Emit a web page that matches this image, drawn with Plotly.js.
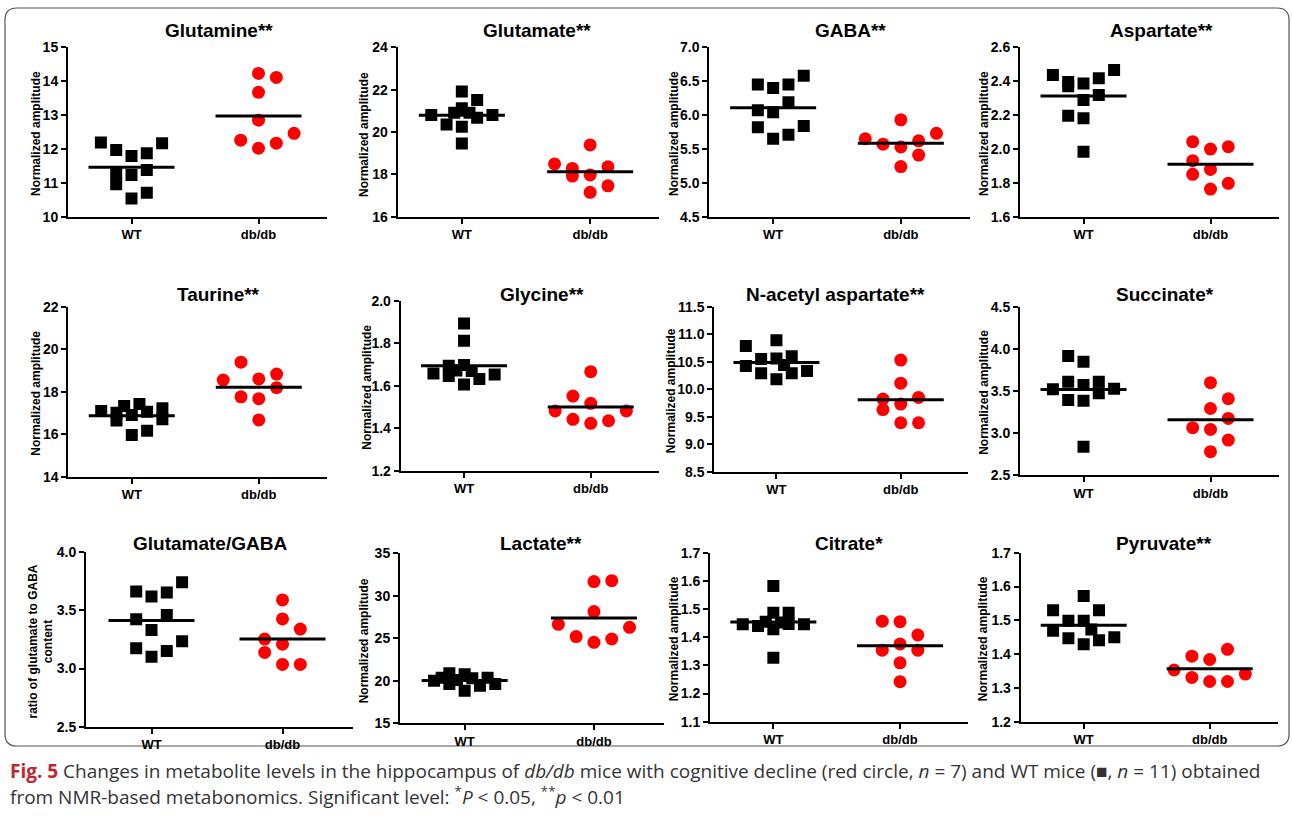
<!DOCTYPE html>
<html><head><meta charset="utf-8">
<script src="https://cdn.plot.ly/plotly-3.0.1.min.js"></script>
<style>html,body{margin:0;padding:0;background:#fff;}#chart{width:1292px;height:816px;}</style>
</head><body><div id="chart"></div>
<script>
// ---------- data ----------
const groupLabels = ["WT", "db/db"];
const panelTitles = ["Glutamine**", "Glutamate**", "GABA**", "Aspartate**",
  "Taurine**", "Glycine**", "N-acetyl aspartate**", "Succinate*",
  "Glutamate/GABA", "Lactate**", "Citrate*", "Pyruvate**"];
const yAxisTitles = ["Normalized amplitude", "Normalized amplitude", "Normalized amplitude", "Normalized amplitude",
  "Normalized amplitude", "Normalized amplitude", "Normalized amplitude", "Normalized amplitude",
  "ratio of glutamate to GABA<br>content", "Normalized amplitude", "Normalized amplitude", "Normalized amplitude"];
const yMin = [10, 16, 4.5, 1.6, 14, 1.2, 8.5, 2.5, 2.5, 15, 1.1, 1.2];
const yMax = [15, 24, 7.0, 2.6, 22, 2.0, 11.5, 4.5, 4.0, 35, 1.7, 1.7];
const yStep = [1, 2, 0.5, 0.2, 2, 0.2, 0.5, 0.5, 0.5, 5, 0.1, 0.1];
const yDecimals = [0, 0, 1, 1, 0, 1, 1, 1, 1, 0, 1, 1];

const glutamineWT = [12.19, 11.97, 11.28, 10.96, 11.79, 11.23, 10.54, 11.87, 11.38, 10.71, 12.17];
const glutamineWTcol = [-2, -1, -1, -1, 0, 0, 0, 1, 1, 1, 2];
const glutamineDB = [12.26, 14.23, 13.67, 12.85, 12.02, 14.11, 12.17, 12.46];
const glutamineDBcol = [-1, 0, 0, 0, 0, 1, 1, 2];

const glutamateWT = [20.80, 20.36, 20.91, 21.91, 21.12, 20.25, 19.46, 20.91, 21.51, 20.67, 20.80];
const glutamateWTcol = [-2, -1, -0.5, 0, 0, 0, 0, 0.5, 1, 1, 2];
const glutamateDB = [18.49, 18.28, 17.92, 19.39, 17.97, 17.15, 18.36, 17.46];
const glutamateDBcol = [-2, -1, -1, 0, 0, 0, 1, 1];

const gabaWT = [6.45, 6.07, 5.82, 6.40, 6.04, 5.65, 6.45, 6.19, 5.71, 6.58, 5.84];
const gabaWTcol = [-1, -1, -1, 0, 0, 0, 1, 1, 1, 2, 2];
const gabaDB = [5.65, 5.57, 5.93, 5.53, 5.24, 5.62, 5.41, 5.73];
const gabaDBcol = [-2, -1, 0, 0, 0, 1, 1, 2];

const aspartateWT = [2.437, 2.395, 2.37, 2.196, 2.387, 2.289, 2.181, 1.984, 2.417, 2.318, 2.466];
const aspartateWTcol = [-2, -1, -1, -1, 0, 0, 0, 0, 1, 1, 2];
const aspartateDB = [2.043, 1.931, 1.850, 1.999, 1.879, 1.763, 2.013, 1.797];
const aspartateDBcol = [-1, -1, -1, 0, 0, 0, 1, 1];

const taurineWT = [17.09, 17.01, 16.64, 17.33, 16.90, 15.96, 17.42, 17.06, 16.16, 17.22, 16.70];
const taurineWTcol = [-2, -1, -1, -0.5, 0, 0, 0.5, 1, 1, 2, 2];
const taurineDB = [18.55, 19.39, 17.76, 18.60, 17.67, 16.67, 18.83, 18.19];
const taurineDBcol = [-2, -1, -1, 0, 0, 0, 1, 1];

const glycineWT = [1.658, 1.694, 1.646, 1.671, 1.893, 1.812, 1.697, 1.606, 1.669, 1.631, 1.653];
const glycineWTcol = [-2, -1, -1, -0.5, 0, 0, 0, 0, 0.5, 1, 2];
const glycineDB = [1.481, 1.551, 1.442, 1.666, 1.517, 1.423, 1.435, 1.481];
const glycineDBcol = [-2, -1, -1, 0, 0, 0, 1, 2];

const naaWT = [10.785, 10.42, 10.55, 10.29, 10.89, 10.56, 10.18, 10.44, 10.60, 10.29, 10.33];
const naaWTcol = [-2, -2, -1, -1, 0, 0, 0, 0.5, 1, 1, 2];
const naaDB = [9.82, 9.63, 10.53, 10.11, 9.73, 9.39, 9.85, 9.39];
const naaDBcol = [-1, -1, 0, 0, 0, 0, 1, 1];

const succinateWT = [3.518, 3.914, 3.609, 3.391, 3.847, 3.569, 3.383, 2.837, 3.609, 3.47, 3.526];
const succinateWTcol = [-2, -1, -1, -1, 0, 0, 0, 0, 1, 1, 2];
const succinateDB = [3.062, 3.597, 3.29, 3.042, 2.777, 3.406, 3.172, 2.915];
const succinateDBcol = [-1, 0, 0, 0, 0, 1, 1, 1];

const ratioWT = [3.662, 3.424, 3.174, 3.619, 3.332, 3.102, 3.654, 3.461, 3.151, 3.742, 3.236];
const ratioWTcol = [-1, -1, -1, 0, 0, 0, 1, 1, 1, 2, 2];
const ratioDB = [3.254, 3.139, 3.590, 3.427, 3.209, 3.036, 3.34, 3.036];
const ratioDBcol = [-1, -1, 0, 0, 0, 0, 1, 1];

const lactateWT = [20.02, 20.37, 20.88, 19.63, 20.10, 20.76, 18.84, 20.29, 19.43, 20.37, 19.63];
const lactateWTcol = [-2, -1.5, -1, -1, -0.5, 0, 0, 0.5, 1, 1.5, 2];
const lactateDB = [26.65, 25.20, 31.67, 28.14, 24.53, 31.78, 24.92, 26.29];
const lactateDBcol = [-2, -1, 0, 0, 0, 1, 1, 2];

const citrateWT = [1.446, 1.440, 1.455, 1.582, 1.487, 1.428, 1.327, 1.452, 1.487, 1.447, 1.446];
const citrateWTcol = [-2, -1, -0.5, 0, 0, 0, 0, 0.5, 1, 1, 2];
const citrateDB = [1.457, 1.354, 1.455, 1.376, 1.309, 1.242, 1.408, 1.354];
const citrateDBcol = [-1, -1, 0, 0, 0, 0, 1, 1];

const pyruvateWT = [1.530, 1.469, 1.499, 1.447, 1.572, 1.499, 1.429, 1.473, 1.530, 1.441, 1.450];
const pyruvateWTcol = [-2, -2, -1, -1, 0, 0, 0, 0.5, 1, 1, 2];
const pyruvateDB = [1.353, 1.394, 1.331, 1.384, 1.319, 1.414, 1.319, 1.341];
const pyruvateDBcol = [-2, -1, -1, 0, 0, 1, 1, 2];

// ---------- assembly ----------
const wtSets = [glutamineWT, glutamateWT, gabaWT, aspartateWT, taurineWT, glycineWT, naaWT, succinateWT, ratioWT, lactateWT, citrateWT, pyruvateWT];
const wtCols = [glutamineWTcol, glutamateWTcol, gabaWTcol, aspartateWTcol, taurineWTcol, glycineWTcol, naaWTcol, succinateWTcol, ratioWTcol, lactateWTcol, citrateWTcol, pyruvateWTcol];
const dbSets = [glutamineDB, glutamateDB, gabaDB, aspartateDB, taurineDB, glycineDB, naaDB, succinateDB, ratioDB, lactateDB, citrateDB, pyruvateDB];
const dbCols = [glutamineDBcol, glutamateDBcol, gabaDBcol, aspartateDBcol, taurineDBcol, glycineDBcol, naaDBcol, succinateDBcol, ratioDBcol, lactateDBcol, citrateDBcol, pyruvateDBcol];

const W = 1292, H = 816;
// panel geometry in pixels: left edge of plot, px per category, top, bottom
const geo = [
  [68, 127, 47.3, 216.7], [397.7, 128.3, 47.3, 216.7], [709.3, 127.7, 47.3, 216.7], [1020, 127, 47.3, 216.7],
  [68.3, 127, 306.7, 476.7], [400.7, 126.7, 300.7, 470.7], [714.3, 124.3, 306.7, 471.7], [1020, 127, 306.7, 475],
  [86, 131, 552.3, 726.7], [400, 129.3, 553.3, 723.3], [710, 126.7, 552.7, 721.7], [1020.7, 126, 552.7, 721.7]
];
const titlePos = [[219, 31], [537, 31], [850, 31], [1161, 31],
  [219, 294], [542, 294], [835, 294], [1165, 294],
  [210, 543], [541, 543], [849, 543], [1164, 543]];
const ytitleX = [36, 364, 674, 984, 36, 367, 671, 984, 40, 364, 674, 983];

const FONT = "Liberation Sans, Arial, sans-serif";
const traces = [], layout = {
  width: W, height: H, margin: {l: 0, r: 0, t: 0, b: 0},
  paper_bgcolor: "#fff", plot_bgcolor: "rgba(0,0,0,0)", showlegend: false,
  annotations: [], shapes: []
};
const mean = a => a.reduce((s, v) => s + v, 0) / a.length;
const sqStep = 15.3, ciStep = 17.8, halfLine = 43;

for (let i = 0; i < 12; i++) {
  const [left, unit, top, bottom] = geo[i];
  const xa = "x" + (i + 1), ya = "y" + (i + 1);
  const xk = "xaxis" + (i + 1), yk = "yaxis" + (i + 1);
  layout[xk] = {
    domain: [left / W, (left + 2.04 * unit) / W], range: [-0.5, 1.54], anchor: ya,
    tickvals: [0, 1], ticktext: groupLabels, showline: true, linewidth: 2, linecolor: "#000",
    ticks: "outside", ticklen: 5, tickwidth: 2, tickcolor: "#000", showgrid: false, zeroline: false,
    tickfont: {family: FONT, size: 13, color: "#000", weight: "bold"}, fixedrange: true
  };
  layout[yk] = {
    domain: [1 - bottom / H, 1 - top / H], range: [yMin[i], yMax[i]], anchor: xa,
    dtick: yStep[i], tick0: yMin[i], tickformat: "." + yDecimals[i] + "f",
    showline: true, linewidth: 2, linecolor: "#000", ticks: "outside", ticklen: 5, tickwidth: 2,
    tickcolor: "#000", showgrid: false, zeroline: false,
    tickfont: {family: FONT, size: 14, color: "#000", weight: "bold"}, fixedrange: true
  };
  const wt = wtSets[i], db = dbSets[i];
  traces.push({
    type: "scatter", mode: "markers", xaxis: xa, yaxis: ya,
    x: wtCols[i].map(c => 0 + c * sqStep / unit), y: wt,
    marker: {symbol: "square", size: 12, color: "#000"}, hoverinfo: "y"
  });
  traces.push({
    type: "scatter", mode: "markers", xaxis: xa, yaxis: ya,
    x: dbCols[i].map(c => 1 + c * ciStep / unit), y: db,
    marker: {symbol: "circle", size: 13, color: "#ff0000"}, hoverinfo: "y"
  });
  const h = halfLine / unit;
  [[0, wt], [1, db]].forEach(([g, arr]) => {
    const m = mean(arr);
    traces.push({
      type: "scatter", mode: "lines", xaxis: xa, yaxis: ya,
      x: [g - h, g + h], y: [m, m], line: {color: "#000", width: 3}, hoverinfo: "skip"
    });
  });
  layout.annotations.push({
    text: panelTitles[i], xref: "paper", yref: "paper",
    x: titlePos[i][0] / W, y: 1 - titlePos[i][1] / H, xanchor: "center", yanchor: "middle",
    showarrow: false, font: {family: FONT, size: 19, color: "#000", weight: "bold"}
  });
  layout.annotations.push({
    text: yAxisTitles[i], xref: "paper", yref: "paper", textangle: -90,
    x: ytitleX[i] / W, y: 1 - ((top + bottom) / 2 + 2) / H, xanchor: "center", yanchor: "middle",
    showarrow: false, font: {family: FONT, size: 12, color: "#000", weight: "bold"}
  });
}

// caption
const capFont = {family: "Open Sans, Noto Sans, sans-serif", size: 19, color: "#333"};
layout.annotations.push({
  text: "<span style='color:#c1272d'><b>Fig. 5</b></span> Changes in metabolite levels in the hippocampus of <i>db/db</i> mice with cognitive decline (red circle, <i>n</i> = 7) and WT mice (■, <i>n</i> = 11) obtained",
  xref: "paper", yref: "paper", x: 8 / W, y: 1 - 771 / H, xanchor: "left", yanchor: "middle",
  showarrow: false, font: capFont, align: "left"
});
layout.annotations.push({
  text: "from NMR-based metabonomics. Significant level: <sup>*</sup><i>P</i> &lt; 0.05, <sup>**</sup><i>p</i> &lt; 0.01",
  xref: "paper", yref: "paper", x: 8 / W, y: 1 - 796 / H, xanchor: "left", yanchor: "middle",
  showarrow: false, font: capFont, align: "left"
});

// rounded border around the figure
function roundRect(x0, y0, x1, y1, r) {
  const X = v => (v / W).toFixed(5), Y = v => (1 - v / H).toFixed(5);
  return `M ${X(x0 + r)} ${Y(y0)} L ${X(x1 - r)} ${Y(y0)} Q ${X(x1)} ${Y(y0)} ${X(x1)} ${Y(y0 + r)} ` +
    `L ${X(x1)} ${Y(y1 - r)} Q ${X(x1)} ${Y(y1)} ${X(x1 - r)} ${Y(y1)} L ${X(x0 + r)} ${Y(y1)} ` +
    `Q ${X(x0)} ${Y(y1)} ${X(x0)} ${Y(y1 - r)} L ${X(x0)} ${Y(y0 + r)} Q ${X(x0)} ${Y(y0)} ${X(x0 + r)} ${Y(y0)} Z`;
}
layout.shapes.push({type: "path", xref: "paper", yref: "paper", path: roundRect(5, 8, 1289, 746, 12),
  line: {color: "#555", width: 1.2}, fillcolor: "rgba(0,0,0,0)", layer: "below"});

Plotly.newPlot("chart", traces, layout, {staticPlot: true, displayModeBar: false});
</script></body></html>
